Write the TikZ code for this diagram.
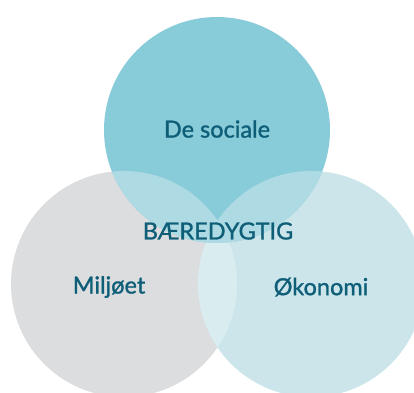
\documentclass[tikz,border=0pt]{standalone}
\usepackage{fontspec}
\setmainfont{Lato}
\newfontfamily\lblfont[FakeBold=1.2]{Lato}
\definecolor{topc}{HTML}{88CBD9}
\definecolor{leftc}{HTML}{DCDDDF}
\definecolor{rightc}{HTML}{CBE5EB}
\definecolor{tlc}{HTML}{AEDBE3}
\definecolor{lrc}{HTML}{D9ECF0}
\definecolor{txtc}{HTML}{0E5E78}
\begin{document}
\begin{tikzpicture}[x=1pt,y=-1pt,
  lbl/.style={text=txtc,font=\lblfont\fontsize{23.5}{27}\selectfont,inner sep=0pt}]
\useasboundingbox (0,0) rectangle (414,392);
\clip (0,0) rectangle (414,392);
\def\R{113}
\coordinate (T) at (217,130);
\coordinate (L) at (124,284);
\coordinate (Rr) at (311,284);
\fill[leftc] (L) circle (\R);
\fill[rightc] (Rr) circle (\R);
\fill[topc] (T) circle (\R);
\begin{scope}
  \clip (L) circle (\R);
  \fill[lrc] (Rr) circle (\R);
  \fill[tlc] (T) circle (\R);
\end{scope}
\begin{scope}
  \clip (Rr) circle (\R);
  \fill[tlc] (T) circle (\R);
\end{scope}
\node[lbl] (soc) at (217,129) {De sociale};
\node[lbl] (bae) at (218,231) {BÆREDYGTIG};
\node[lbl] (mil) at (109,287) {Miljøet};
\node[lbl] (oko) at (321,287) {Økonomi};
\end{tikzpicture}
\end{document}
